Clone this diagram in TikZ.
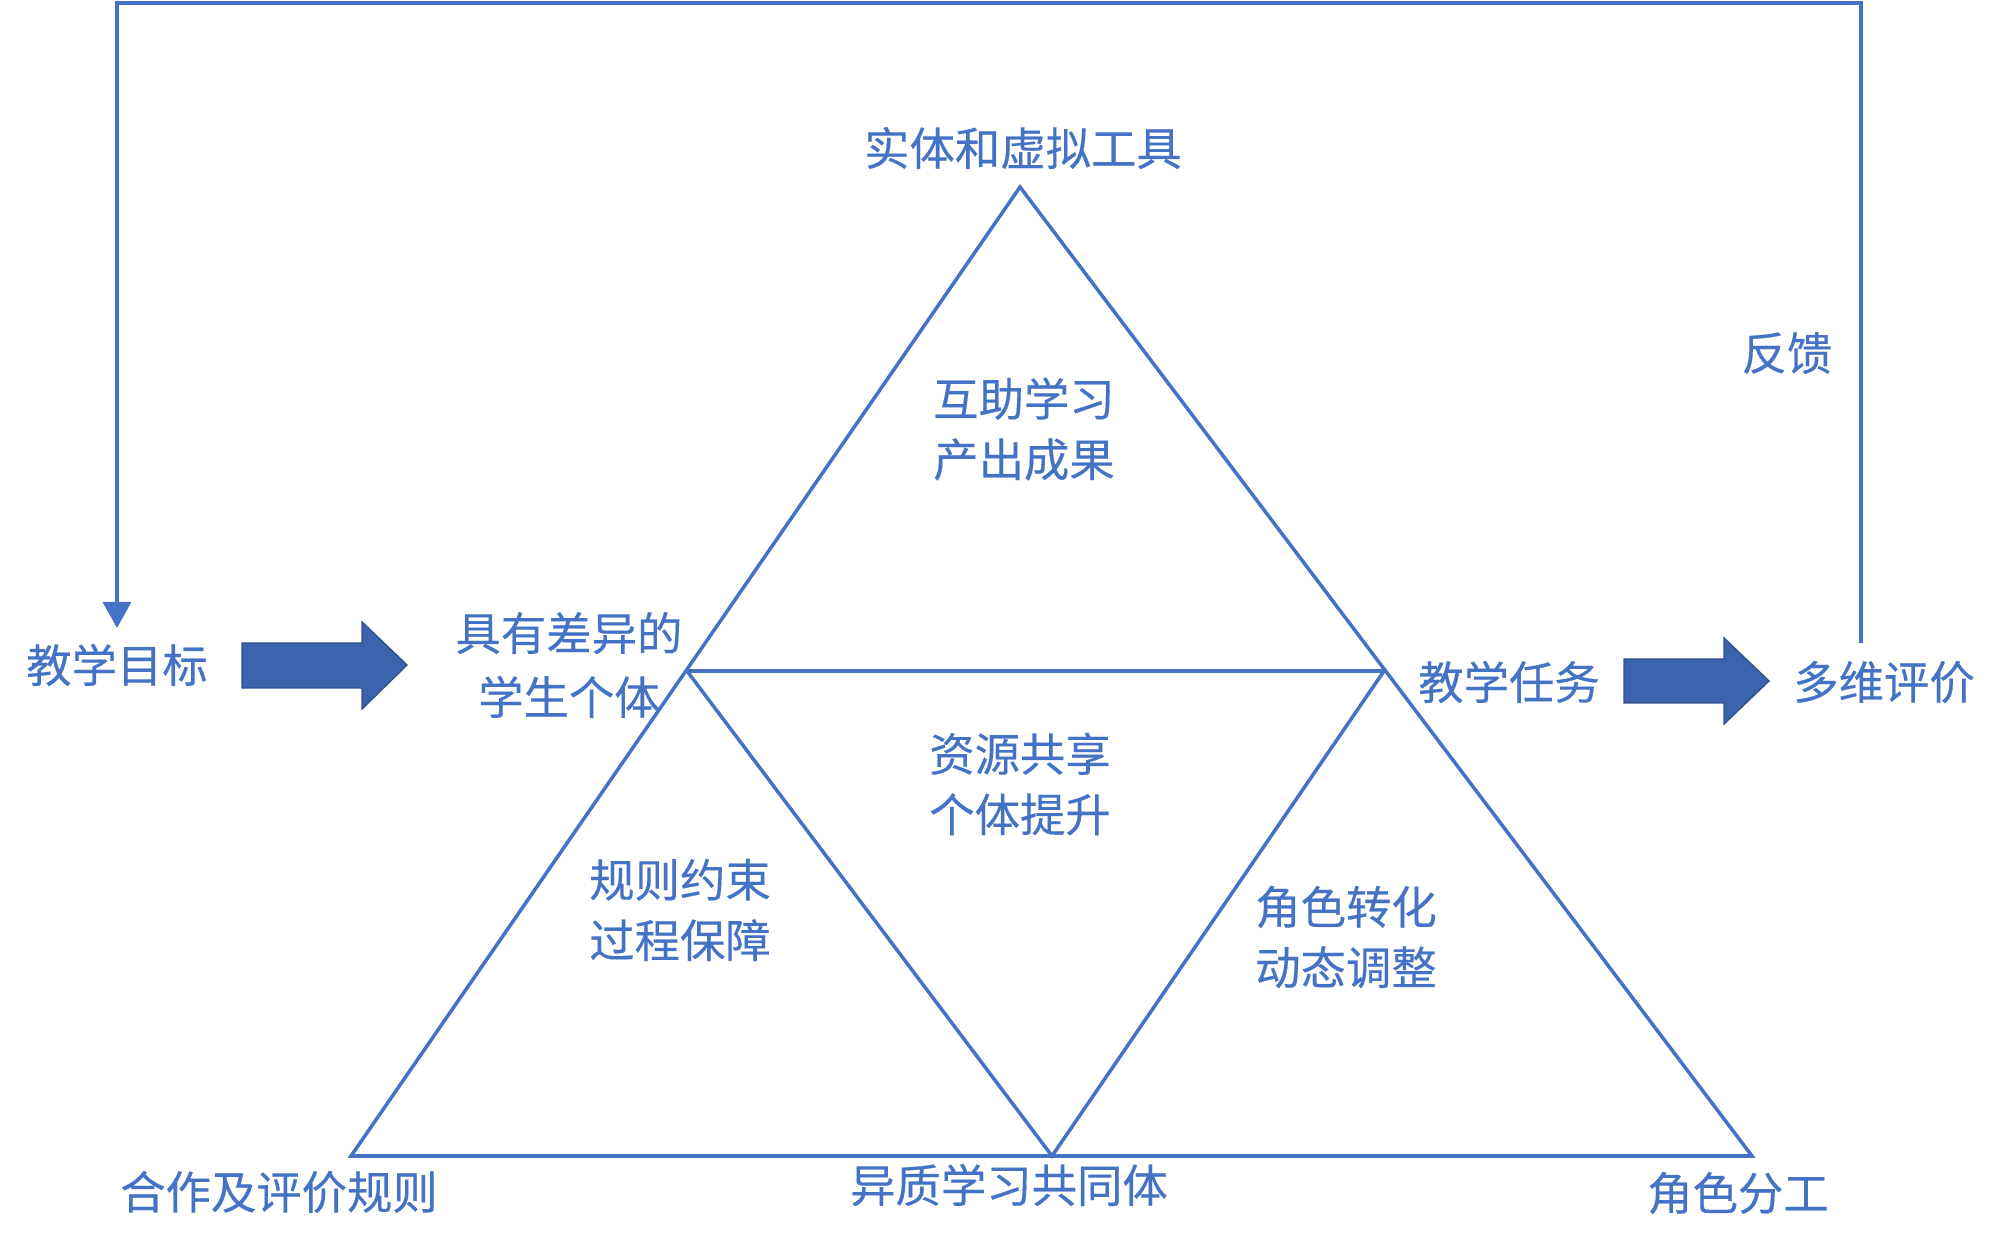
\documentclass[tikz,border=0pt]{standalone}
\usepackage{fontspec}
\newfontfamily\cjk[FakeBold=0.3]{Noto Sans CJK SC}
\usetikzlibrary{arrows.meta}
\definecolor{lineblue}{HTML}{4472C4}
\definecolor{arrowfill}{HTML}{3C63AE}
\definecolor{arrowedge}{HTML}{2F528F}
\tikzset{
  lbl/.style={inner sep=0pt, align=center, text=lineblue, font=\cjk\fontsize{12.9pt}{17.2pt}\selectfont},
  edge/.style={draw=lineblue, line width=1pt, line join=miter},
  blockarrow/.style={fill=arrowfill, draw=arrowedge, line width=0.4pt},
}
\begin{document}
\begin{tikzpicture}[x=0.01cm,y=-0.01cm]
\useasboundingbox (0,0) rectangle (2000,1240);
% triangle vertices
\coordinate (apex) at (1020,187);
\coordinate (ml) at (687,671);
\coordinate (mr) at (1384,671);
\coordinate (bl) at (351,1156);
\coordinate (bm) at (1052,1156);
\coordinate (br) at (1752,1156);
% outer triangle and inner lines
\draw[edge] (apex) -- (bl) -- (br) -- cycle;
\draw[edge] (ml) -- (mr);
\draw[edge] (ml) -- (bm) -- (mr);

% labels
\node[lbl] (tools) at (1023,148) {实体和虚拟工具};
\node[lbl] (mutual) at (1024,429) {互助学习\\产出成果};
\node[lbl, font=\cjk\fontsize{12.9pt}{18.2pt}\selectfont] (students) at (569,665) {具有差异的\\学生个体};
\node[lbl] (goal) at (117,665) {教学目标};
\node[lbl] (task) at (1509,682) {教学任务};
\node[lbl] (eval) at (1884,682) {多维评价};
\node[lbl] (fb) at (1787,353) {反馈};
\node[lbl] (share) at (1020,784) {资源共享\\个体提升};
\node[lbl] (rules) at (680,910) {规则约束\\过程保障};
\node[lbl] (roles) at (1346,937) {角色转化\\动态调整};
\node[lbl] (coop) at (279,1192) {合作及评价规则};
\node[lbl] (hetero) at (1009,1185) {异质学习共同体};
\node[lbl] (division) at (1738,1193) {角色分工};

% block arrows
\path[blockarrow] (242,643) -- (362,643) -- (362,622) -- (407,665) -- (362,709) -- (362,688) -- (242,688) -- cycle;
\path[blockarrow] (1624,659) -- (1724,659) -- (1724,638) -- (1769,681) -- (1724,724) -- (1724,703) -- (1624,703) -- cycle;

% feedback loop
\coordinate (fbstart) at (1861,643);
\coordinate (fbtr) at (1861,3);
\coordinate (fbtl) at (117,3);
\coordinate (fbend) at (117,628);
\draw[edge, -{Triangle[width=0.28cm,length=0.26cm]}] (fbstart) -- (fbtr) -- (fbtl) -- (fbend);
\end{tikzpicture}
\end{document}
